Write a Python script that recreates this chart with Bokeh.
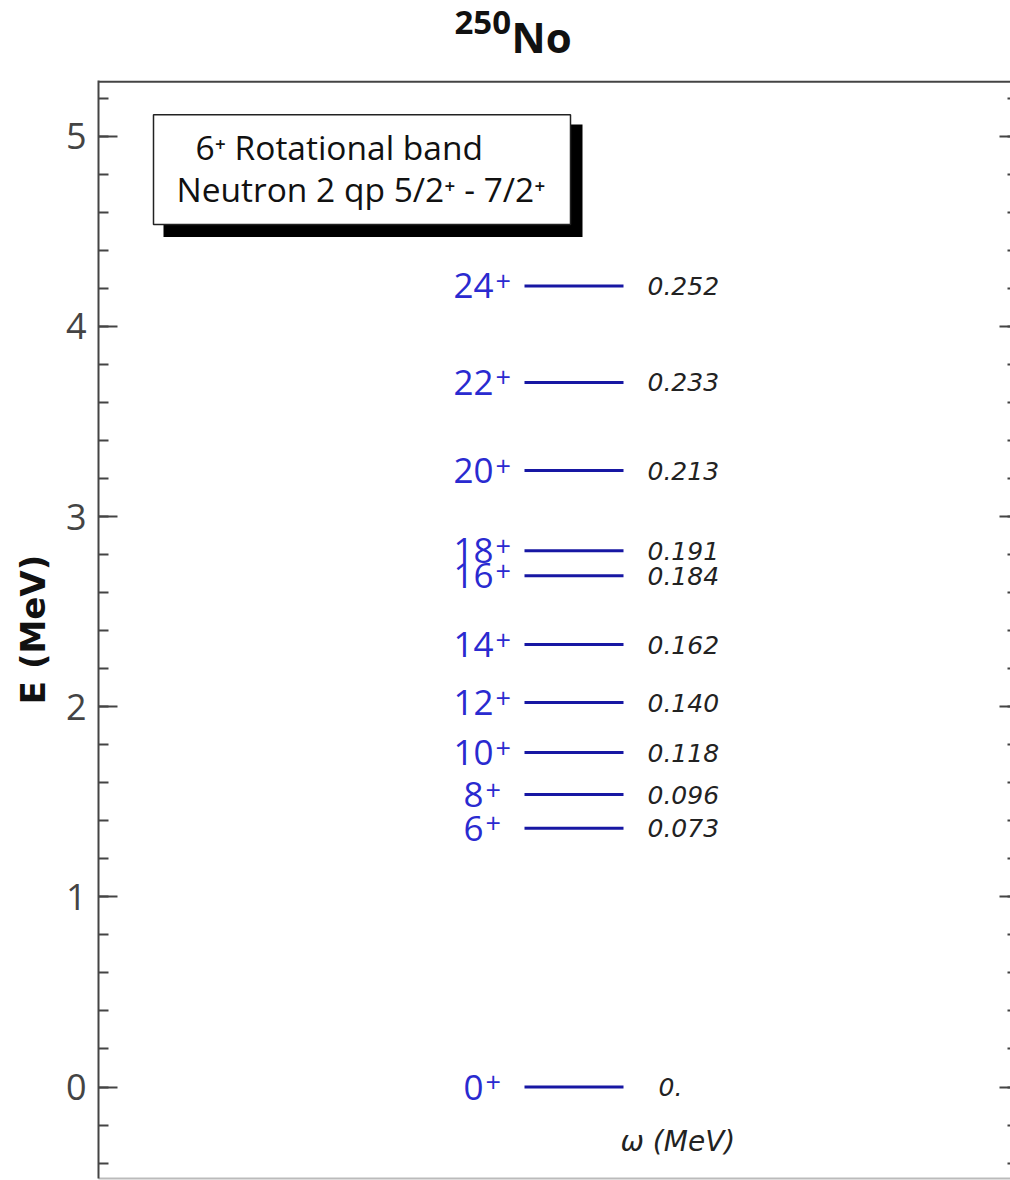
from bokeh.plotting import figure
from bokeh.layouts import column
from bokeh.models import (Range1d, LinearAxis, SingleIntervalTicker, FixedTicker,
                          BoxAnnotation, Label, CustomJSTickFormatter, ColumnDataSource)
from bokeh.core.properties import value
from bokeh.embed import file_html
from bokeh.resources import INLINE

# ---------------- data ----------------
spins = ["0", "6", "8", "10", "12", "14", "16", "18", "20", "22", "24"]
energies = [0.0, 1.361, 1.538, 1.759, 2.022, 2.327, 2.688, 2.820, 3.242, 3.705, 4.213]
omegas = ["0.", "0.073", "0.096", "0.118", "0.140", "0.162", "0.184", "0.191",
          "0.213", "0.233", "0.252"]
title_mass = "250"
title_element = "No"
legend_lines = ["6\u207a Rotational band", "Neutron 2 qp 5/2\u207a - 7/2\u207a"]
y_label = "E (MeV)"
omega_label = "\u03c9 (MeV)"

# ---------------- layout constants ----------------
FONT = "Open Sans"
FONT2 = "DejaVu Sans"
X0, X1 = 0.0, 9.12
Y0, Y1 = -0.481, 5.293
LINE_X0, LINE_X1 = 4.26, 5.25
LABEL_X = 3.95
OMEGA_X = 5.49
LINE_COLOR = "#1717a3"
LABEL_COLOR = "#2a2ad0"
PX = (Y1 - Y0) / 1098.0   # one pixel in data units (vertical)

src = ColumnDataSource(dict(
    E=energies,
    spin=spins,
    omega=omegas,
    num_off=[-10 if len(s) == 1 else 0 for s in spins],
    plus_off=[-8 if len(s) == 1 else 2 for s in spins],
    om_off=[11 if o == "0." else 0 for o in omegas],
))

# ---------------- title strip ----------------
t = figure(width=1010, height=80, x_range=Range1d(X0, X1), y_range=Range1d(0, 80),
           output_backend="svg", toolbar_location=None,
           x_axis_location=None, y_axis_location=None,
           min_border_left=98, min_border_right=0, min_border_top=0, min_border_bottom=0)
t.outline_line_color = None
t.xgrid.grid_line_color = None
t.ygrid.grid_line_color = None
t.add_layout(Label(x=3.56, y=58, text=title_mass, text_align="left",
                   text_baseline="alphabetic", text_font=FONT, text_font_style="bold",
                   text_font_size="33px", text_color="#111111"))
t.add_layout(Label(x=4.13, y=44, text=title_element, text_align="left",
                   text_baseline="alphabetic", text_font=FONT, text_font_style="bold",
                   text_font_size="42px", text_color="#111111"))

# ---------------- main plot ----------------
p = figure(width=1010, height=1100,
           x_range=Range1d(X0, X1), y_range=Range1d(Y0, Y1),
           output_backend="svg", toolbar_location=None,
           x_axis_location=None, y_axis_location=None,
           min_border_left=98, min_border_top=0, min_border_right=0, min_border_bottom=2)
p.outline_line_color = None
p.xgrid.grid_line_color = None
p.ygrid.grid_line_color = None

yl = LinearAxis(ticker=SingleIntervalTicker(interval=1, num_minor_ticks=5), axis_label=y_label)
yl.axis_line_color = "#444444"
yl.axis_line_width = 2
yl.major_tick_line_color = "#444444"
yl.major_tick_line_width = 2
yl.minor_tick_line_color = "#444444"
yl.minor_tick_line_width = 2
yl.major_tick_in = 19
yl.major_tick_out = 0
yl.minor_tick_in = 10
yl.minor_tick_out = 0
yl.major_label_text_font = FONT
yl.major_label_text_font_size = "36px"
yl.major_label_text_color = "#444444"
yl.major_label_standoff = 12
yl.axis_label_text_font = FONT2
yl.axis_label_text_font_style = "bold"
yl.axis_label_text_font_size = "34px"
yl.axis_label_text_color = "#111111"
yl.axis_label_standoff = 10
p.add_layout(yl, "left")

yr = LinearAxis(ticker=SingleIntervalTicker(interval=1, num_minor_ticks=5),
                formatter=CustomJSTickFormatter(code="return ''"))
yr.axis_line_color = None
yr.major_tick_line_color = "#444444"
yr.major_tick_line_width = 2
yr.minor_tick_line_color = "#444444"
yr.minor_tick_line_width = 2
yr.major_tick_in = 11
yr.major_tick_out = 0
yr.minor_tick_in = 3
yr.minor_tick_out = 0
yr.major_label_standoff = 0
p.add_layout(yr, "right")

xb = LinearAxis(ticker=FixedTicker(ticks=[]), formatter=CustomJSTickFormatter(code="return ''"))
xb.axis_line_color = "#bbbbbb"
xb.axis_line_width = 2
xb.major_tick_line_color = None
xb.minor_tick_line_color = None
xb.major_label_standoff = 0
p.add_layout(xb, "below")

# top frame line
p.add_layout(BoxAnnotation(top=Y1, bottom=Y1 - 2.2 * PX, fill_color="#444444",
                           fill_alpha=1.0, line_color=None))

# level lines
p.segment(x0=LINE_X0, x1=LINE_X1, y0="E", y1="E", source=src,
          line_color=LINE_COLOR, line_width=3)

# spin labels
p.text(x=LABEL_X, y="E", text="spin", source=src, x_offset="num_off",
       text_align="right", text_baseline="middle",
       text_font=value(FONT), text_font_size="35px", text_color=LABEL_COLOR)
p.text(x=LABEL_X, y="E", text=value("+"), source=src, x_offset="plus_off", y_offset=-5,
       text_align="left", text_baseline="middle",
       text_font=value(FONT), text_font_size="27px", text_color=LABEL_COLOR)

# omega values
p.text(x=OMEGA_X, y="E", text="omega", source=src, x_offset="om_off",
       text_align="left", text_baseline="middle",
       text_font=value(FONT2), text_font_style="italic", text_font_size="25px",
       text_color="#222222")

p.add_layout(Label(x=5.22, y=-0.287, text=omega_label, text_align="left",
                   text_baseline="middle", text_font=FONT2, text_font_style="italic",
                   text_font_size="28px", text_color="#222222"))

# legend box with shadow
p.add_layout(BoxAnnotation(left=0.65, right=4.84, top=5.061, bottom=4.47,
                           fill_color="black", fill_alpha=1.0, line_color=None))
p.add_layout(BoxAnnotation(left=0.55, right=4.72, top=5.113, bottom=4.536,
                           fill_color="white", fill_alpha=1.0,
                           line_color="#222222", line_width=1.5, line_alpha=1.0))
p.add_layout(Label(x=0.97, y=4.945, text=legend_lines[0], text_align="left",
                   text_baseline="alphabetic", text_font=FONT,
                   text_font_size="33.5px", text_color="#111111"))
p.add_layout(Label(x=0.78, y=4.724, text=legend_lines[1], text_align="left",
                   text_baseline="alphabetic", text_font=FONT,
                   text_font_size="33.5px", text_color="#111111"))

layout = column(t, p, spacing=0)
open("out.html", "w").write(file_html(layout, INLINE))
